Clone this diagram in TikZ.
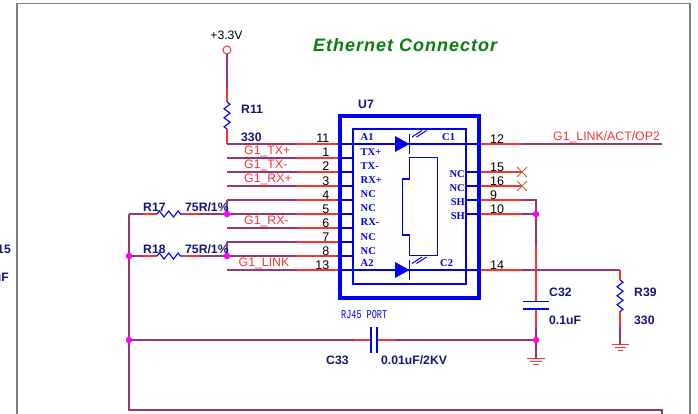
\documentclass[tikz,border=0pt]{standalone}
\usepackage{fontspec}
\setmainfont{Liberation Sans}
\newfontfamily\pinfont{Liberation Serif}
\newfontfamily\portfont{Liberation Mono}
\usetikzlibrary{decorations.pathmorphing}
\definecolor{wirered}{RGB}{250,50,50}
\definecolor{wiredark}{RGB}{150,55,110}
\definecolor{symblue}{RGB}{0,0,245}
\definecolor{refnavy}{RGB}{20,20,125}
\definecolor{crossbrown}{RGB}{170,110,60}
\definecolor{titlegreen}{RGB}{10,125,15}
\definecolor{dotpink}{RGB}{255,0,255}
\tikzset{
    redwire/.style={wirered, line width=1.2pt},
    darkwire/.style={wiredark, line width=1.2pt},
    bluewire/.style={symblue, line width=1.1pt},
    hres/.style={symblue, line width=1.1pt, decorate, decoration={zigzag, amplitude=3pt, segment length=9.4pt}},
    vres/.style={symblue, line width=1.1pt, decorate, decoration={zigzag, amplitude=3pt, segment length=9pt}},
    junction/.style={circle, fill=dotpink, inner sep=0pt, minimum size=6.5pt},
    pinnum/.style={font=\fontsize{12.5}{13}\selectfont, text=black, inner sep=0pt},
    netlabel/.style={font=\fontsize{12.3}{13}\selectfont, text=wirered, inner sep=0pt},
    reflabel/.style={font=\fontsize{12.2}{13}\selectfont\bfseries, text=refnavy, inner sep=0pt},
    pinname/.style={font=\fontsize{10.5}{11}\pinfont\bfseries, text=symblue, inner sep=0pt},
    crossmark/.style={crossbrown, line width=0.8pt},
    rayline/.style={symblue, line width=1pt}
}
\begin{document}
\begin{tikzpicture}[x=1pt, y=-1pt]
    \useasboundingbox (0,0) rectangle (698,414);

    % Sheet frame
    \coordinate (frameBL) at (17,414);
    \coordinate (frameTL) at (17,3.5);
    \coordinate (frameTR) at (690,3.5);
    \coordinate (frameBR) at (690,414);
    \draw[gray, line width=1.5pt] (frameBL) -- (frameTL) -- (frameTR) -- (frameBR);

    % Left pin ends
    \coordinate (L11) at (227,144);
    \coordinate (L1) at (227,158);
    \coordinate (L2) at (227,172);
    \coordinate (L3) at (227,186);
    \coordinate (L4) at (227,200);
    \coordinate (L5) at (227,214);
    \coordinate (L6) at (227,228);
    \coordinate (L7) at (227,242);
    \coordinate (L8) at (227,256);
    \coordinate (L13) at (227,270);

    % Where the wire colour changes
    \coordinate (M11) at (297,144);
    \coordinate (M1) at (297,158);
    \coordinate (M2) at (297,172);
    \coordinate (M3) at (297,186);
    \coordinate (M4) at (297,200);
    \coordinate (M5) at (297,214);
    \coordinate (M6) at (297,228);
    \coordinate (M7) at (297,242);
    \coordinate (M8) at (297,256);
    \coordinate (M13) at (297,270);

    % Pins on the outer box, left
    \coordinate (P11) at (340,144);
    \coordinate (P1) at (340,158);
    \coordinate (P2) at (340,172);
    \coordinate (P3) at (340,186);
    \coordinate (P4) at (340,200);
    \coordinate (P5) at (340,214);
    \coordinate (P6) at (340,228);
    \coordinate (P7) at (340,242);
    \coordinate (P8) at (340,256);
    \coordinate (P13) at (340,270);

    % Pins on the inner box, left
    \coordinate (I1) at (353,158);
    \coordinate (I2) at (353,172);
    \coordinate (I3) at (353,186);
    \coordinate (I4) at (353,200);
    \coordinate (I5) at (353,214);
    \coordinate (I6) at (353,228);
    \coordinate (I7) at (353,242);
    \coordinate (I8) at (353,256);

    % Pins on the right
    \coordinate (P12) at (479,144);
    \coordinate (P15) at (479,172);
    \coordinate (P16) at (479,186);
    \coordinate (P9) at (479,200);
    \coordinate (P10) at (479,214);
    \coordinate (P14) at (479,270);
    \coordinate (I15) at (466,172);
    \coordinate (I16) at (466,186);
    \coordinate (I9) at (466,200);
    \coordinate (I10) at (466,214);
    \coordinate (M12) at (522,144);
    \coordinate (X15) at (522,172);
    \coordinate (X16) at (522,186);
    \coordinate (M9) at (522,200);
    \coordinate (M10) at (522,214);
    \coordinate (M14) at (522,270);
    \coordinate (E12) at (662,144);

    % Rails and bends
    \coordinate (T9) at (536,200);
    \coordinate (T14) at (620,270);
    \coordinate (B17) at (129,214);
    \coordinate (R17a) at (143,214);
    \coordinate (R17b) at (157,214);
    \coordinate (R17c) at (185,214);
    \coordinate (R17d) at (199,214);
    \coordinate (R18a) at (143,256);
    \coordinate (R18b) at (157,256);
    \coordinate (R18c) at (185,256);
    \coordinate (R18d) at (199,256);
    \coordinate (B410) at (129,410);
    \coordinate (E410) at (662,410);
    \coordinate (E414) at (662,414);

    % Left pin wires
    \draw[darkwire] (L11) -- (M11);
    \draw[darkwire] (L1) -- (M1);
    \draw[darkwire] (L2) -- (M2);
    \draw[darkwire] (L3) -- (M3);
    \draw[darkwire] (L5) -- (M5) (L4) -- (M4);
    \draw[darkwire] (L6) -- (M6);
    \draw[darkwire] (L8) -- (M8) (L7) -- (M7);
    \draw[darkwire] (L13) -- (M13);
    \draw[darkwire] (L4) -- (L5);
    \draw[darkwire] (L7) -- (L8);
    \draw[redwire] (M11) -- (P11);
    \draw[redwire] (M1) -- (P1);
    \draw[redwire] (M2) -- (P2);
    \draw[redwire] (M3) -- (P3);
    \draw[redwire] (M4) -- (P4);
    \draw[redwire] (M5) -- (P5);
    \draw[redwire] (M6) -- (P6);
    \draw[redwire] (M7) -- (P7);
    \draw[redwire] (M8) -- (P8);
    \draw[redwire] (M13) -- (P13);

    % Stubs inside the outer box
    \draw[bluewire] (P1) -- (I1);
    \draw[bluewire] (P2) -- (I2);
    \draw[bluewire] (P3) -- (I3);
    \draw[bluewire] (P4) -- (I4);
    \draw[bluewire] (P5) -- (I5);
    \draw[bluewire] (P6) -- (I6);
    \draw[bluewire] (P7) -- (I7);
    \draw[bluewire] (P8) -- (I8);
    \draw[bluewire] (I15) -- (P15);
    \draw[bluewire] (I16) -- (P16);
    \draw[bluewire] (I9) -- (P9);
    \draw[bluewire] (I10) -- (P10);
    \draw[bluewire] (P11) -- (P12);
    \draw[bluewire] (P13) -- (P14);

    % Right pin wires
    \coordinate (J10pos) at (536,214);
    \draw[redwire] (P12) -- (M12);
    \draw[darkwire] (M12) -- (E12);
    \draw[redwire] (P15) -- (X15);
    \draw[redwire] (P16) -- (X16);
    \draw[redwire] (P9) -- (M9);
    \draw[redwire] (P10) -- (M10);
    \draw[redwire] (P14) -- (M14);
    \draw[darkwire] (M9) -- (T9) -- (J10pos);
    \draw[darkwire] (M10) -- (J10pos);
    \draw[darkwire] (M14) -- (T14);

    % Unconnected pins
    \draw[crossmark] ([shift={(-5,-5)}]X15) -- ([shift={(5,5)}]X15);
    \draw[crossmark] ([shift={(-5,5)}]X15) -- ([shift={(5,-5)}]X15);
    \draw[crossmark] ([shift={(-5,-5)}]X16) -- ([shift={(5,5)}]X16);
    \draw[crossmark] ([shift={(-5,5)}]X16) -- ([shift={(5,-5)}]X16);

    % U7 boxes
    \coordinate (outerTL) at (340,116);
    \coordinate (outerBR) at (479,298);
    \coordinate (innerTL) at (353,129);
    \coordinate (innerBR) at (466,284);
    \draw[symblue, line width=4pt] (outerTL) rectangle (outerBR);
    \draw[symblue, line width=1.1pt] (innerTL) rectangle (innerBR);

    % Jack outline
    \coordinate (jackA) at (409.5,157.5);
    \coordinate (jackB) at (437.5,157.5);
    \coordinate (jackC) at (437.5,255.5);
    \coordinate (jackD) at (409.5,255.5);
    \coordinate (jackE) at (409.5,235);
    \coordinate (jackF) at (402.5,235);
    \coordinate (jackG) at (402.5,179);
    \coordinate (jackH) at (409.5,179);
    \draw[bluewire] (jackA) -- (jackB) -- (jackC) -- (jackD) -- (jackE) -- (jackF) -- (jackG) -- (jackH) -- cycle;

    % Upper LED
    \coordinate (ledAa) at (395,136);
    \coordinate (ledAb) at (395,152);
    \coordinate (ledAc) at (409.5,144);
    \coordinate (ledAd) at (409.5,134);
    \coordinate (ledAe) at (409.5,154);
    \fill[symblue] (ledAa) -- (ledAb) -- (ledAc) -- cycle;
    \draw[bluewire] (ledAd) -- (ledAe);
    \coordinate (rayAa) at (412,137);
    \coordinate (rayAb) at (422,130.5);
    \coordinate (rayAc) at (416.5,137);
    \coordinate (rayAd) at (426.5,130.5);
    \draw[rayline] (rayAa) -- (rayAb);
    \draw[rayline] (rayAc) -- (rayAd);

    % Lower LED
    \coordinate (ledBa) at (395,262);
    \coordinate (ledBb) at (395,278);
    \coordinate (ledBc) at (409.5,270);
    \coordinate (ledBd) at (409.5,260);
    \coordinate (ledBe) at (409.5,280);
    \fill[symblue] (ledBa) -- (ledBb) -- (ledBc) -- cycle;
    \draw[bluewire] (ledBd) -- (ledBe);
    \coordinate (rayBa) at (412,263.5);
    \coordinate (rayBb) at (422,257);
    \coordinate (rayBc) at (416.5,263.5);
    \coordinate (rayBd) at (426.5,257);
    \draw[rayline] (rayBa) -- (rayBb);
    \draw[rayline] (rayBc) -- (rayBd);

    % R11 and the supply
    \node[circle, draw=wirered, line width=1pt, fill=white, inner sep=0pt, minimum size=8pt] (vcc) at (227,50) {};
    \coordinate (R11a) at (227,87);
    \coordinate (R11b) at (227,102);
    \coordinate (R11c) at (227,129);
    \draw[darkwire] (vcc) -- (R11a);
    \draw[redwire] (R11a) -- (R11b);
    \draw[vres] (R11b) -- (R11c);
    \draw[redwire] (R11c) -- (L11);

    % Junctions
    \node[junction] (J5) at (227,214) {};
    \node[junction] (J8) at (227,256) {};
    \node[junction] (JL) at (129,256) {};
    \node[junction] (JC) at (129,340) {};
    \node[junction] (J10) at (J10pos) {};
    \node[junction] (JG) at (536,340) {};

    % R17 and R18
    \draw[darkwire] (B17) -- (JL) -- (JC) -- (B410) -- (E410) -- (E414);
    \draw[darkwire] (B17) -- (R17a);
    \draw[redwire] (R17a) -- (R17b);
    \draw[hres] (R17b) -- (R17c);
    \draw[redwire] (R17c) -- (R17d);
    \draw[darkwire] (R17d) -- (J5);
    \draw[darkwire] (JL) -- (R18a);
    \draw[redwire] (R18a) -- (R18b);
    \draw[hres] (R18b) -- (R18c);
    \draw[redwire] (R18c) -- (R18d);
    \draw[darkwire] (R18d) -- (J8);

    % C33
    \coordinate (C33a) at (354,340);
    \coordinate (C33b) at (371,340);
    \coordinate (C33c) at (377,340);
    \coordinate (C33d) at (395,340);
    \coordinate (plateAt) at (371,327);
    \coordinate (plateAb) at (371,353);
    \coordinate (plateBt) at (377,327);
    \coordinate (plateBb) at (377,353);
    \draw[darkwire] (JC) -- (C33a);
    \draw[redwire] (C33a) -- (C33b);
    \draw[redwire] (C33c) -- (C33d);
    \draw[darkwire] (C33d) -- (JG);
    \draw[bluewire] (plateAt) -- (plateAb);
    \draw[bluewire] (plateBt) -- (plateBb);

    % C32
    \coordinate (C32z) at (536,245);
    \coordinate (C32a) at (536,302);
    \coordinate (C32b) at (536,309);
    \coordinate (C32c) at (536,326);
    \coordinate (plateCl) at (523,301.5);
    \coordinate (plateCr) at (549,301.5);
    \coordinate (plateDl) at (523,309);
    \coordinate (plateDr) at (549,309);
    \draw[darkwire] (J10) -- (C32z);
    \draw[redwire] (C32z) -- (C32a);
    \draw[redwire] (C32b) -- (C32c);
    \draw[darkwire] (C32c) -- (JG);
    \draw[symblue, line width=1.4pt] (plateCl) -- (plateCr);
    \draw[symblue, line width=1.4pt] (plateDl) -- (plateDr);

    % R39
    \coordinate (R39a) at (620,280);
    \coordinate (R39b) at (620,312);
    \coordinate (R39c) at (620,327);
    \coordinate (R39d) at (620,344);
    \draw[redwire] (T14) -- (R39a);
    \draw[vres] (R39a) -- (R39b);
    \draw[redwire] (R39b) -- (R39c);
    \draw[darkwire] (R39c) -- (R39d);

    % Grounds
    \coordinate (gndA) at (536,358);
    \draw[darkwire] (JG) -- (gndA);
    \draw[wirered, line width=1pt] (527,358.5) -- (545,358.5);
    \draw[wirered, line width=1pt] (530,361.5) -- (542,361.5);
    \draw[wirered, line width=1pt] (533,364.5) -- (539,364.5);
    \draw[wirered, line width=1pt] (612,344) -- (629,344);
    \draw[wirered, line width=1pt] (615,347) -- (626,347);
    \draw[wirered, line width=1pt] (617.5,350) -- (623,350);

    % Pin numbers
    \node[pinnum, anchor=east] (n11) at (329.5,138.5) {11};
    \node[pinnum, anchor=east] (n1) at (329.5,152.5) {1};
    \node[pinnum, anchor=east] (n2) at (329.5,166.5) {2};
    \node[pinnum, anchor=east] (n3) at (329.5,181) {3};
    \node[pinnum, anchor=east] (n4) at (329.5,195) {4};
    \node[pinnum, anchor=east] (n5) at (329.5,209) {5};
    \node[pinnum, anchor=east] (n6) at (329.5,223) {6};
    \node[pinnum, anchor=east] (n7) at (329.5,237) {7};
    \node[pinnum, anchor=east] (n8) at (329.5,251) {8};
    \node[pinnum, anchor=east] (n13) at (329.5,265) {13};
    \node[pinnum, anchor=west] (n12) at (490,139) {12};
    \node[pinnum, anchor=west] (n15) at (490,167) {15};
    \node[pinnum, anchor=west] (n16) at (490,181) {16};
    \node[pinnum, anchor=west] (n9) at (490,195) {9};
    \node[pinnum, anchor=west] (n10) at (490,209) {10};
    \node[pinnum, anchor=west] (n14) at (490,265) {14};

    % Pin names
    \node[pinname, anchor=west] (nameA1) at (360.5,137) {A1};
    \node[pinname, anchor=west] (nameTXp) at (360.5,152.5) {TX+};
    \node[pinname, anchor=west] (nameTXm) at (360.5,166.5) {TX-};
    \node[pinname, anchor=west] (nameRXp) at (360.5,180.5) {RX+};
    \node[pinname, anchor=west] (nameNCa) at (360.5,194.5) {NC};
    \node[pinname, anchor=west] (nameNCb) at (360.5,208.5) {NC};
    \node[pinname, anchor=west] (nameRXm) at (360.5,222.5) {RX-};
    \node[pinname, anchor=west] (nameNCc) at (360.5,237) {NC};
    \node[pinname, anchor=west] (nameNCd) at (360.5,251) {NC};
    \node[pinname, anchor=west] (nameA2) at (360.5,263.5) {A2};
    \node[pinname, anchor=west] (nameC1) at (442,137) {C1};
    \node[pinname, anchor=west] (nameC2) at (440,263.5) {C2};
    \node[pinname, anchor=east] (nameNCe) at (465,174) {NC};
    \node[pinname, anchor=east] (nameNCf) at (465,188) {NC};
    \node[pinname, anchor=east] (nameSHa) at (465,202) {SH};
    \node[pinname, anchor=east] (nameSHb) at (465,216) {SH};

    % Net labels
    \node[netlabel, anchor=west] (netTXp) at (244,151) {G1\_TX+};
    \node[netlabel, anchor=west] (netTXm) at (244,165) {G1\_TX-};
    \node[netlabel, anchor=west] (netRXp) at (244,179.5) {G1\_RX+};
    \node[netlabel, anchor=west] (netRXm) at (244,221) {G1\_RX-};
    \node[netlabel, anchor=west] (netLINK) at (238.5,263) {G1\_LINK};
    \node[netlabel, anchor=west] (netOP) at (553,137) {G1\_LINK/ACT/OP2};

    % Part references and values
    \node[reflabel, anchor=west] (refR11) at (241,109) {R11};
    \node[reflabel, anchor=west] (valR11) at (241,137) {330};
    \node[reflabel, anchor=west] (refU7) at (358,104) {U7};
    \node[reflabel, anchor=west] (refR17) at (143,207) {R17};
    \node[reflabel, anchor=west] (valR17) at (185,207) {75R/1\%};
    \node[reflabel, anchor=west] (refR18) at (143,249) {R18};
    \node[reflabel, anchor=west] (valR18) at (185,249) {75R/1\%};
    \node[reflabel, anchor=west] (refC32) at (549,292) {C32};
    \node[reflabel, anchor=west] (valC32) at (549,320) {0.1uF};
    \node[reflabel, anchor=west] (refR39) at (634,292) {R39};
    \node[reflabel, anchor=west] (valR39) at (634,320) {330};
    \node[reflabel, anchor=west] (refC33) at (326,360) {C33};
    \node[reflabel, anchor=west] (valC33) at (381,360) {0.01uF/2KV};
    \node[reflabel, anchor=east] (cutRef) at (11,249) {15};
    \node[reflabel, anchor=east] (cutVal) at (9,277) {uF};

    % Other text
    \node[font=\fontsize{12.2}{13}\selectfont, text=black, inner sep=0pt] (vccLabel) at (226.5,35.5) {+3.3V};
    \node[font=\fontsize{8.5}{9}\portfont, text=symblue, inner sep=0pt, anchor=west] (portLabel) at (341,315) {\scalebox{1}[1.4]{RJ45 PORT}};
    \node[font=\fontsize{18}{19}\selectfont\bfseries\itshape\addfontfeature{LetterSpace=5.5}, text=titlegreen, inner sep=0pt, anchor=west] (title) at (313,45) {Ethernet Connector};
\end{tikzpicture}
\end{document}
